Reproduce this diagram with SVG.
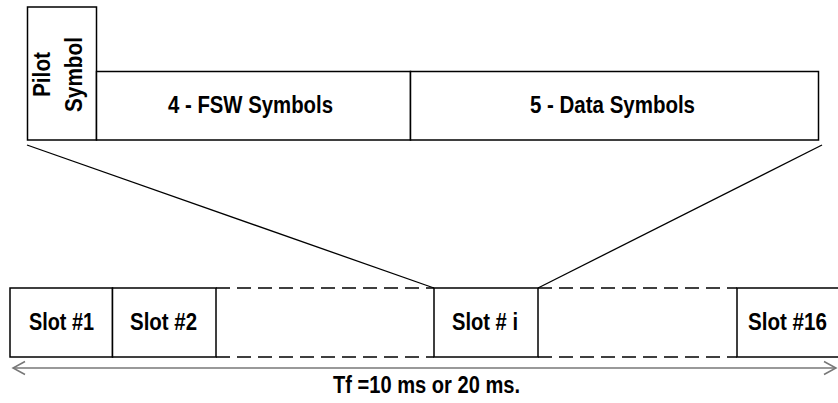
<svg xmlns="http://www.w3.org/2000/svg" width="838" height="403" viewBox="0 0 838 403">
<style>
.box{fill:#fff;stroke:#000;stroke-width:1.5}
.ln{stroke:#000;stroke-width:1.3;fill:none}
.dash{stroke:#000;stroke-width:1.3;fill:none;stroke-dasharray:14 7}
.t{font-family:"Liberation Sans",Arial,sans-serif;font-weight:bold;font-size:23px;fill:#000}
.arr{stroke:#777;stroke-width:1.5;fill:none}
</style>
<rect width="838" height="403" fill="#fff"/>
<g id="frame-top">
<g id="pilot"><rect class="box" x="27.5" y="7" width="69" height="133"/>
<text class="t" transform="translate(50,97) rotate(-90)" textLength="45" lengthAdjust="spacingAndGlyphs">Pilot</text>
<text class="t" transform="translate(82,112) rotate(-90)" textLength="75" lengthAdjust="spacingAndGlyphs">Symbol</text></g>
<g id="fsw"><rect class="box" x="96.5" y="71.5" width="314" height="68.5"/>
<text class="t" x="168" y="113" textLength="165" lengthAdjust="spacingAndGlyphs">4 - FSW Symbols</text></g>
<g id="data"><rect class="box" x="410.5" y="71.5" width="408" height="68.5"/>
<text class="t" x="530" y="113" textLength="165" lengthAdjust="spacingAndGlyphs">5 - Data Symbols</text></g>
</g>
<g id="connectors">
<line class="ln" x1="27" y1="145" x2="434" y2="288"/>
<line class="ln" x1="822" y1="145" x2="538" y2="288"/>
<line class="dash" x1="216" y1="288" x2="434" y2="288"/>
<line class="dash" x1="216" y1="357" x2="434" y2="357"/>
<line class="dash" x1="538" y1="288" x2="737" y2="288"/>
<line class="dash" x1="538" y1="357" x2="737" y2="357"/>
<line class="arr" x1="13" y1="368" x2="836" y2="368"/>
<polyline class="arr" points="25,361.5 13,368 25,374.5"/>
<polyline class="arr" points="824,361.5 836,368 824,374.5"/>
</g>
<g id="slot1"><rect class="box" x="10" y="288" width="102.5" height="69"/>
<text class="t" x="29" y="330" textLength="65" lengthAdjust="spacingAndGlyphs">Slot #1</text></g>
<g id="slot2"><rect class="box" x="112.5" y="288" width="103.5" height="69"/>
<text class="t" x="130" y="330" textLength="67" lengthAdjust="spacingAndGlyphs">Slot #2</text></g>
<g id="sloti"><rect class="box" x="434" y="288" width="104" height="69"/>
<text class="t" x="452" y="330" textLength="66" lengthAdjust="spacingAndGlyphs">Slot # i</text></g>
<g id="slot16"><rect class="box" x="737" y="288" width="110" height="69"/>
<text class="t" x="748" y="330" textLength="79" lengthAdjust="spacingAndGlyphs">Slot #16</text></g>
<g id="label"><text class="t" x="333" y="393" textLength="187" lengthAdjust="spacingAndGlyphs">Tf =10 ms or 20 ms.</text></g>
</svg>
